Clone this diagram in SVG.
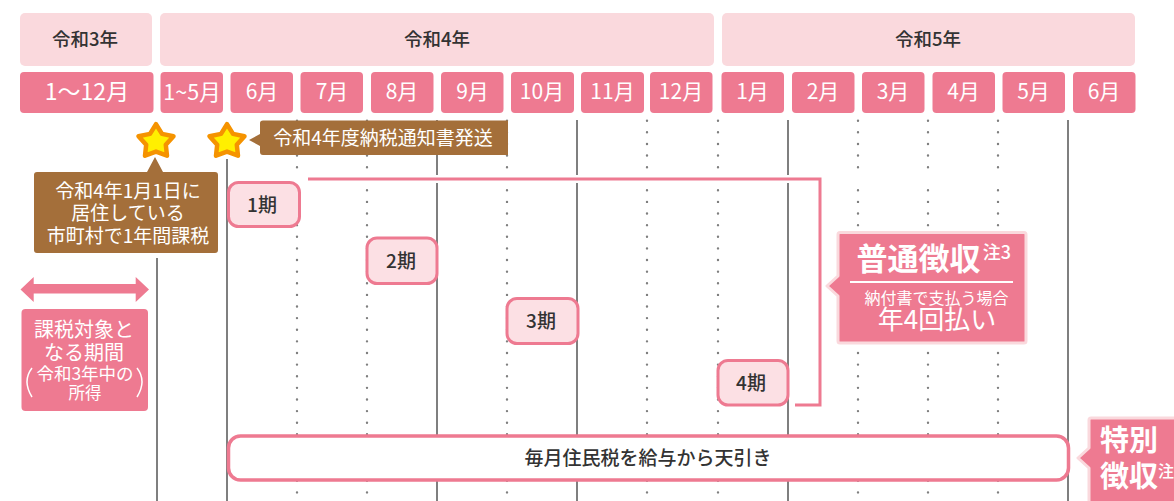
<svg xmlns="http://www.w3.org/2000/svg" width="1174" height="501" viewBox="0 0 1174 501">
<style>
text{font-family:"Noto Sans CJK JP","Noto Sans",sans-serif;text-anchor:middle}
.yr{fill:#fad9dd}
.mo{fill:#ee7a91}
.mt{fill:#fff;font-size:21px}
.yt{fill:#333;font-size:18.500px;font-weight:500}
.solid{stroke:#7f7f7f;stroke-width:2;fill:none}
.dot{stroke:#7f7f7f;stroke-width:2.400;stroke-linecap:round;stroke-dasharray:0 11.620;fill:none}
.brown{fill:#a46f3a}
.bt{fill:#fff;font-size:19px}
.term{fill:#fce0e4;stroke:#ee7a91;stroke-width:3}
.tt{fill:#333;font-size:19px;font-weight:500}
.star{fill:#fff000;stroke:#f59300;stroke-width:4.500;stroke-linejoin:round}
.call{fill:#ee7a91;stroke:#fad9dd;stroke-width:3;stroke-linejoin:round}
</style>
<defs><path id="star-shape" d="M0 -17.400L6 -7.700L17.500 -5.400L9.800 3.200L11 14.100L0 10L-11 14.100L-9.800 3.200L-17.500 -5.400L-6 -7.700Z"/></defs>
<g id="connectors">
<path class="solid" d="M157 258V501M227 159V501M437 120V175M437 183V501M577 120V175M577 183V501M788 120V175M788 183V501M1068 120V501"/>
<path class="dot" d="M297 120.700V175M367 120.700V175M507 120.700V175M647 120.700V175M718 120.700V175M858 120.700V175M928 120.700V175M998 120.700V175"/>
<path class="dot" d="M297 190.300V501M367 190.300V501M507 190.300V501M647 190.300V501M718 190.300V501M858 190.300V501M928 190.300V501M998 190.300V501"/>
<path id="normal-bracket" d="M308 179H820V405H795" fill="none" stroke="#ee7a91" stroke-width="3"/>
</g>
<g id="years">
<g id="y3"><rect class="yr" x="20" y="13" width="132" height="53" rx="5"/><text class="yt" x="85" y="46">令和3年</text></g>
<g id="y4"><rect class="yr" x="160" y="13" width="554" height="53" rx="5"/><text class="yt" x="437" y="46">令和4年</text></g>
<g id="y5"><rect class="yr" x="722" y="13" width="413" height="53" rx="5"/><text class="yt" x="928" y="46">令和5年</text></g>
</g>
<g id="months">
<g id="m0"><rect class="mo" x="20" y="72" width="133.500" height="41" rx="4"/><text class="mt" x="87" y="99.500" style="font-size:23px">1〜12月</text></g>
<g id="m1"><rect class="mo" x="160.500" y="72" width="62.500" height="41" rx="4"/><text class="mt" x="192" y="99.500" style="font-size:21.500px">1~5月</text></g>
<g id="m2"><rect class="mo" x="230.500" y="72" width="62.500" height="41" rx="4"/><text class="mt" x="262" y="99">6月</text></g>
<g id="m3"><rect class="mo" x="300.500" y="72" width="62.500" height="41" rx="4"/><text class="mt" x="332" y="99">7月</text></g>
<g id="m4"><rect class="mo" x="371" y="72" width="62.500" height="41" rx="4"/><text class="mt" x="402" y="99">8月</text></g>
<g id="m5"><rect class="mo" x="441" y="72" width="62.500" height="41" rx="4"/><text class="mt" x="472.500" y="99">9月</text></g>
<g id="m6"><rect class="mo" x="511" y="72" width="63" height="41" rx="4"/><text class="mt" x="542" y="99">10月</text></g>
<g id="m7"><rect class="mo" x="581" y="72" width="63" height="41" rx="4"/><text class="mt" x="612.500" y="99">11月</text></g>
<g id="m8"><rect class="mo" x="650" y="72" width="62.500" height="41" rx="4"/><text class="mt" x="681" y="99">12月</text></g>
<g id="m9"><rect class="mo" x="721.500" y="72" width="62.500" height="41" rx="4"/><text class="mt" x="752.500" y="99">1月</text></g>
<g id="m10"><rect class="mo" x="792" y="72" width="62.500" height="41" rx="4"/><text class="mt" x="823" y="99">2月</text></g>
<g id="m11"><rect class="mo" x="862" y="72" width="62.500" height="41" rx="4"/><text class="mt" x="893" y="99">3月</text></g>
<g id="m12"><rect class="mo" x="932.500" y="72" width="62.500" height="41" rx="4"/><text class="mt" x="963.500" y="99">4月</text></g>
<g id="m13"><rect class="mo" x="1002.500" y="72" width="62.500" height="41" rx="4"/><text class="mt" x="1033.500" y="99">5月</text></g>
<g id="m14"><rect class="mo" x="1073" y="72" width="62.500" height="41" rx="4"/><text class="mt" x="1104" y="99">6月</text></g>
</g>
<g id="star1"><use href="#star-shape" class="star" x="156" y="141.600"/></g>
<g id="star2"><use href="#star-shape" class="star" x="227" y="141.600"/></g>
<g id="notice"><path class="brown" d="M263 120.500H508V155H263Q260 155 260 152V146L249 140L260 134V123Q260 120.500 263 120.500Z"/><text class="bt" x="383" y="145">令和4年度納税通知書発送</text></g>
<g id="residence"><path class="brown" d="M37 172H147L155 157L163 172H215Q218 172 218 175V250Q218 253 215 253H37Q34 253 34 250V175Q34 172 37 172Z"/><text class="bt" x="128" y="198">令和4年1月1日に</text><text class="bt" x="128" y="220">居住している</text><text class="bt" x="128" y="243">市町村で1年間課税</text></g>
<g id="span-arrow"><path class="mo" d="M20.500 289.500L33.700 277V284H135.700V277L149 289.500L135.700 302V293.500H33.700V302Z"/></g>
<g id="period"><rect class="mo" x="21.500" y="309" width="126.500" height="102" rx="4"/>
<text x="84" y="337" fill="#fff" font-size="20">課税対象と</text><text x="84" y="360" fill="#fff" font-size="20">なる期間</text>
<text x="85" y="380" fill="#fff" font-size="17.500">令和3年中の</text><text x="85" y="398.500" fill="#fff" font-size="16.500">所得</text>
<path d="M32 368Q22 381 32 397M137 368Q147 381 137 397" fill="none" stroke="#fff" stroke-width="1.500"/></g>
<g id="term1"><rect class="term" x="228.500" y="182.500" width="71" height="44" rx="10"/><text class="tt" x="262" y="212">1期</text></g>
<g id="term2"><rect class="term" x="367" y="238" width="70" height="45.500" rx="10"/><text class="tt" x="401" y="268">2期</text></g>
<g id="term3"><rect class="term" x="507" y="298.500" width="71" height="45" rx="10"/><text class="tt" x="541" y="328">3期</text></g>
<g id="term4"><rect class="term" x="718" y="360.500" width="70" height="44.500" rx="10"/><text class="tt" x="751" y="390">4期</text></g>
<g id="monthly"><rect x="228.500" y="436" width="840" height="44" rx="12" fill="#fff" stroke="#ee7a91" stroke-width="3.500"/><text class="tt" x="648" y="465">毎月住民税を給与から天引き</text></g>
<g id="futsu"><path class="call" d="M840 232.500H1024Q1026 232.500 1026 234.500V341Q1026 343 1024 343H840Q838 343 838 341V296L827 286L838 276V234.500Q838 232.500 840 232.500Z"/>
<text x="918.500" y="270" fill="#fff" font-size="31" font-weight="700">普通徴収</text><text x="997" y="259" fill="#fff" font-size="18" font-weight="500">注3</text>
<path d="M850 282H1013" stroke="#fff" stroke-width="2"/>
<text x="936.500" y="304" fill="#fff" font-size="16">納付書で支払う場合</text><text x="937" y="329" fill="#fff" font-size="26">年4回払い</text></g>
<g id="tokubetsu"><path class="call" d="M1091 418H1176V503H1091Q1089 503 1089 501V468L1078 458L1089 448V420Q1089 418 1091 418Z"/>
<text x="1129" y="451" fill="#fff" font-size="29" font-weight="700">特別</text><text x="1129" y="487" fill="#fff" font-size="29" font-weight="700">徴収</text><text x="1166" y="477" fill="#fff" font-size="16" font-weight="500">注</text></g>
</svg>
